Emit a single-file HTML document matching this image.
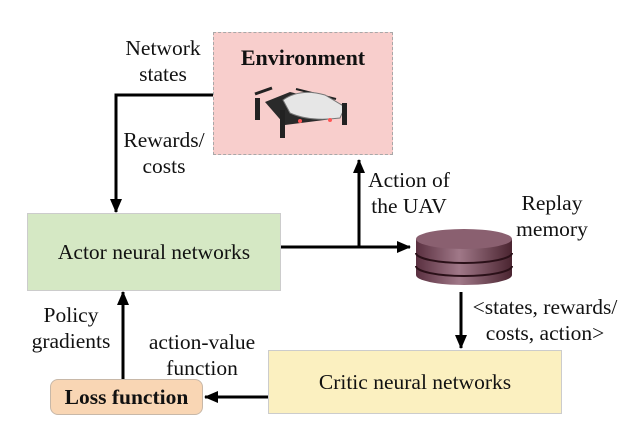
<!DOCTYPE html>
<html><head><meta charset="utf-8"><style>
body{margin:0;width:637px;height:425px;background:#fff;position:relative;overflow:hidden;font-family:"Liberation Serif",serif;color:#111}
.t{position:absolute;font-size:21.5px;line-height:26px;text-align:center;white-space:nowrap;transform:translateX(-50%)}
.box{position:absolute;display:flex;align-items:center;justify-content:center;font-size:21.5px;box-sizing:border-box}
</style></head><body>
<div class="box" style="left:213px;top:32px;width:180px;height:123px;background:#f8cecc;border:1px dashed #a8a8a8;align-items:flex-start;padding-top:12px;font-weight:bold;font-size:22px">Environment</div>
<div class="box" style="left:27px;top:213px;width:254px;height:78px;background:#d5e8c4;border:1px solid #ccc">Actor neural networks</div>
<div class="box" style="left:268px;top:350px;width:294px;height:64px;background:#fbf0c0;border:1px solid #ccc">Critic neural networks</div>
<div class="box" style="left:50px;top:379px;width:153px;height:36px;background:#f9d6b4;border:1px solid #c8b8a8;border-radius:8px;font-weight:bold">Loss function</div>

<svg width="637" height="425" style="position:absolute;left:0;top:0">
<defs>
<marker id="b" markerWidth="14" markerHeight="12" refX="13" refY="6" orient="auto" markerUnits="userSpaceOnUse"><path d="M0,0L14,6L0,12z" fill="#000"/></marker>
<linearGradient id="g" x1="0" x2="1"><stop offset="0" stop-color="#5a3040"/><stop offset="0.45" stop-color="#a07888"/><stop offset="1" stop-color="#4a2430"/></linearGradient>
</defs>
<g stroke="#000" stroke-width="3" fill="none">
<path d="M213,95H116V212" marker-end="url(#b)"/>
<path d="M281,247H410" marker-end="url(#b)"/>
<path d="M359,247V160" marker-end="url(#b)"/>
<path d="M461,292V348" marker-end="url(#b)"/>
<path d="M268,397H205" marker-end="url(#b)"/>
<path d="M123,379V292" marker-end="url(#b)"/>
</g>
<path d="M416,239V275A48,10 0 0 0 512,275V239Z" fill="url(#g)"/>
<ellipse cx="464" cy="239" rx="48" ry="10" fill="#8a6070"/>
<path d="M416,253A48,10 0 0 0 512,253M416,266A48,10 0 0 0 512,266" stroke="#2a1018" stroke-width="2" fill="none"/>
<!-- drone -->
<g>
<line x1="255" y1="94" x2="272" y2="88" stroke="#222" stroke-width="3"/>
<line x1="296" y1="89" x2="336" y2="99" stroke="#222" stroke-width="2"/>
<path d="M265,102L290,92L345,105L340,118L285,125Z" fill="#2a2a2a"/>
<path d="M283,100Q300,88 325,95L345,107L340,118Q310,122 290,113Z" fill="#e6e6e6" stroke="#777"/>
<rect x="255" y="98" width="5" height="22" fill="#222"/>
<rect x="280" y="110" width="5" height="28" fill="#222"/>
<rect x="342" y="103" width="5" height="22" fill="#222"/>
<circle cx="300" cy="121" r="2" fill="#f55"/>
<circle cx="330" cy="120" r="2" fill="#f55"/>
</g>
</svg>

<div class="t" style="left:163px;top:35px">Network<br>states</div>
<div class="t" style="left:164px;top:127px">Rewards/<br>costs</div>
<div class="t" style="left:409px;top:167px">Action of<br>the UAV</div>
<div class="t" style="left:552px;top:190px">Replay<br>memory</div>
<div class="t" style="left:545px;top:294px">&lt;states, rewards/<br>costs, action&gt;</div>
<div class="t" style="left:71px;top:302px">Policy<br>gradients</div>
<div class="t" style="left:202px;top:329px">action-value<br>function</div>
</body></html>
